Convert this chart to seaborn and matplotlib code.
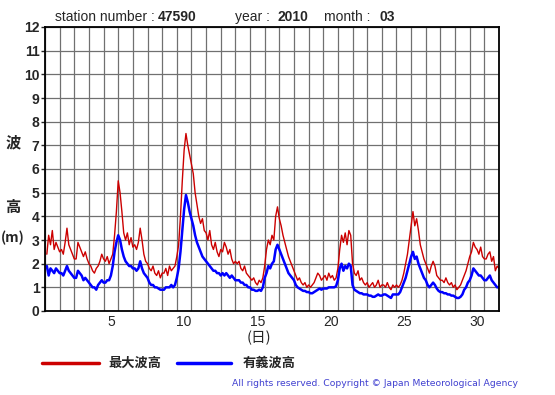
# 波浪観測グラフ（最大波高・有義波高） 2010年3月 地点47590
import numpy as np
import pandas as pd
import matplotlib
matplotlib.use('Agg')
import matplotlib.pyplot as plt
import seaborn as sns

station = '47590'
year = '2010'
month = '03'

# 3時間ごとの値（各日 3,6,...,24時）
hours = [3, 6, 9, 12, 15, 18, 21, 24]
n_days = 31

max_wave = [
    2.4, 3.2, 2.8, 3.4, 2.6, 2.9, 2.7, 2.5,   # 1
    2.6, 2.4, 2.9, 3.5, 2.8, 2.6, 2.4, 2.2,   # 2
    2.2, 2.9, 2.7, 2.5, 2.3, 2.5, 2.2, 2.0,   # 3
    1.9, 1.7, 1.6, 1.8, 1.9, 2.1, 2.4, 2.2,   # 4
    2.1, 2.3, 2.0, 2.2, 2.4, 3.2, 4.2, 5.5,   # 5
    5.0, 4.2, 3.3, 3.0, 3.3, 2.8, 3.1, 2.7,   # 6
    2.8, 2.6, 2.9, 3.5, 3.0, 2.4, 2.1, 2.0,   # 7
    1.8, 1.7, 1.9, 1.6, 1.5, 1.7, 1.4, 1.6,   # 8
    1.6, 1.8, 1.5, 1.9, 1.7, 1.8, 1.9, 2.3,   # 9
    2.8, 4.0, 5.5, 6.8, 7.5, 7.0, 6.6, 6.2,   # 10
    5.8, 5.0, 4.5, 4.0, 3.7, 3.9, 3.4, 3.3,   # 11
    3.0, 3.4, 2.8, 2.6, 2.9, 2.5, 2.3, 2.6,   # 12
    2.5, 2.9, 2.7, 2.4, 2.6, 2.2, 2.0, 2.1,   # 13
    2.0, 2.1, 1.8, 1.7, 1.9, 1.6, 1.5, 1.4,   # 14
    1.3, 1.4, 1.2, 1.1, 1.3, 1.2, 1.4, 1.9,   # 15
    2.6, 3.0, 2.8, 3.2, 3.0, 4.0, 4.4, 3.9,   # 16
    3.6, 3.2, 2.9, 2.6, 2.3, 2.1, 1.9, 1.7,   # 17
    1.5, 1.3, 1.4, 1.2, 1.1, 1.2, 1.0, 1.1,   # 18
    1.0, 1.1, 1.2, 1.4, 1.6, 1.5, 1.3, 1.4,   # 19
    1.5, 1.3, 1.6, 1.4, 1.5, 1.3, 1.4, 1.8,   # 20
    2.6, 3.2, 2.9, 3.3, 2.8, 3.4, 3.2, 2.0,   # 21
    1.6, 1.5, 1.7, 1.3, 1.4, 1.2, 1.1, 1.2,   # 22
    1.0, 1.1, 1.2, 1.0, 1.1, 1.3, 1.0, 1.1,   # 23
    1.1, 1.0, 1.2, 1.0, 0.9, 1.1, 1.0, 1.1,   # 24
    1.0, 1.1, 1.3, 1.6, 2.0, 2.4, 3.0, 3.6,   # 25
    4.2, 3.6, 3.9, 3.4, 2.8, 2.5, 2.2, 2.0,   # 26
    1.8, 1.6, 1.9, 2.1, 1.9, 1.5, 1.4, 1.3,   # 27
    1.3, 1.2, 1.4, 1.2, 1.1, 1.2, 1.0, 1.1,   # 28
    0.9, 1.0, 1.1, 1.3, 1.5, 1.7, 2.0, 2.3,   # 29
    2.5, 2.9, 2.7, 2.6, 2.4, 2.7, 2.3, 2.2,   # 30
    2.2, 2.4, 2.5, 2.1, 2.3, 1.7, 1.9, 1.8,   # 31
]

sig_wave = [
    1.9, 1.5, 1.8, 1.7, 1.6, 1.8, 1.7, 1.6,   # 1
    1.6, 1.5, 1.7, 1.9, 1.7, 1.6, 1.5, 1.4,   # 2
    1.4, 1.7, 1.6, 1.5, 1.3, 1.4, 1.3, 1.2,   # 3
    1.1, 1.0, 1.0, 0.9, 1.1, 1.2, 1.3, 1.2,   # 4
    1.2, 1.3, 1.3, 1.5, 1.9, 2.5, 2.9, 3.2,   # 5
    3.0, 2.6, 2.3, 2.1, 2.0, 1.9, 1.9, 1.8,   # 6
    1.8, 1.7, 1.8, 2.1, 1.8, 1.6, 1.5, 1.4,   # 7
    1.2, 1.1, 1.1, 1.0, 1.0, 0.95, 0.9, 0.9,  # 8
    0.9, 1.0, 1.0, 1.0, 1.1, 1.0, 1.1, 1.4,   # 9
    1.8, 2.5, 3.4, 4.3, 4.9, 4.6, 4.2, 3.9,   # 10
    3.6, 3.2, 2.9, 2.7, 2.5, 2.3, 2.2, 2.1,   # 11
    2.0, 1.9, 1.8, 1.7, 1.7, 1.6, 1.6, 1.5,   # 12
    1.6, 1.5, 1.6, 1.5, 1.4, 1.5, 1.4, 1.3,   # 13
    1.3, 1.3, 1.2, 1.2, 1.1, 1.1, 1.0, 1.0,   # 14
    0.9, 0.9, 0.85, 0.85, 0.9, 0.85, 1.0, 1.4,  # 15
    1.6, 1.9, 1.8, 2.0, 2.1, 2.6, 2.8, 2.6,   # 16
    2.4, 2.2, 2.0, 1.8, 1.6, 1.5, 1.4, 1.3,   # 17
    1.1, 1.0, 0.95, 0.9, 0.85, 0.85, 0.8, 0.8,  # 18
    0.75, 0.75, 0.8, 0.85, 0.9, 0.95, 0.9, 0.95,  # 19
    0.95, 0.95, 1.0, 1.0, 1.0, 1.0, 1.05, 1.3,  # 20
    1.8, 2.0, 1.7, 1.9, 1.8, 2.0, 1.9, 1.1,   # 21
    0.9, 0.85, 0.8, 0.75, 0.75, 0.7, 0.7, 0.7,  # 22
    0.65, 0.65, 0.6, 0.6, 0.65, 0.7, 0.65, 0.65,  # 23
    0.7, 0.7, 0.65, 0.6, 0.55, 0.7, 0.7, 0.7,  # 24
    0.7, 0.8, 1.0, 1.2, 1.4, 1.7, 2.0, 2.3,   # 25
    2.5, 2.2, 2.3, 2.0, 1.8, 1.6, 1.4, 1.3,   # 26
    1.1, 1.0, 1.1, 1.2, 1.1, 0.95, 0.85, 0.8,  # 27
    0.8, 0.75, 0.75, 0.7, 0.7, 0.65, 0.65, 0.6,  # 28
    0.55, 0.55, 0.6, 0.7, 0.9, 1.0, 1.2, 1.3,  # 29
    1.5, 1.8, 1.7, 1.6, 1.5, 1.5, 1.4, 1.3,   # 30
    1.3, 1.4, 1.5, 1.3, 1.2, 1.1, 1.0, 1.0,   # 31
]

day_ticks = [5, 10, 15, 20, 25, 30]
y_ticks = list(range(0, 13))

# 経過日数（1日0時 = 0）
t = np.array([(d - 1) + h / 24 for d in range(1, n_days + 1) for h in hours])
df = pd.DataFrame({'t': t, 'max': max_wave, 'sig': sig_wave})

sns.set_style('white')
plt.rcParams['font.family'] = ['Liberation Sans', 'DejaVu Sans']
jp = ['Noto Sans CJK JP', 'DejaVu Sans']

fig = plt.figure(figsize=(5.55, 3.95), dpi=100)
ax = fig.add_axes([45 / 555, 1 - 311 / 395, 454 / 555, 284 / 395])

sns.lineplot(data=df, x='t', y='max', ax=ax, color='#cc0000', linewidth=1.0)
sns.lineplot(data=df, x='t', y='sig', ax=ax, color='#0000ff', linewidth=1.8)

ax.set_xlim(0, n_days)
ax.set_ylim(0, 12)
ax.set_xticks(np.arange(0, n_days + 1), minor=True)
ax.set_xticks([d - 0.5 for d in day_ticks])
ax.set_xticklabels([str(d) for d in day_ticks], fontsize=10)
ax.set_yticks(y_ticks)
ax.set_yticklabels([str(v) for v in y_ticks], fontsize=10, fontweight='bold')
ax.grid(True, which='minor', axis='x', color='#707070', linewidth=0.9)
ax.grid(True, which='major', axis='y', color='#707070', linewidth=0.9)
ax.grid(False, which='major', axis='x')
ax.tick_params(axis='x', which='both', length=0, pad=3)
ax.tick_params(axis='y', length=3, width=1, pad=1, left=True)
ax.set_xlabel('')
ax.set_ylabel('')
for s in ax.spines.values():
    s.set_color('black')
    s.set_linewidth(1.3)

# 上部見出し
hy = 1 - 17 / 395
fig.text(55 / 555, hy, 'station number :', fontsize=10, va='center')
fig.text(158 / 555, hy, station, fontsize=10, fontweight='bold', va='center')
fig.text(235 / 555, hy, 'year :', fontsize=10, va='center')
fig.text(277 / 555, hy, year, fontsize=10, fontweight='bold', va='center')
fig.text(324 / 555, hy, 'month :', fontsize=10, va='center')
fig.text(379 / 555, hy, month, fontsize=10, fontweight='bold', va='center')

# 縦軸ラベル
fig.text(13 / 555, 1 - 142 / 395, '波', family=jp, fontsize=11, fontweight='bold', ha='center', va='center')
fig.text(13 / 555, 1 - 207 / 395, '高', family=jp, fontsize=11, fontweight='bold', ha='center', va='center')
fig.text(13 / 555, 1 - 238 / 395, '(m)', family=jp, fontsize=10, fontweight='bold', ha='center', va='center')
# 横軸ラベル
fig.text(259 / 555, 1 - 338 / 395, '(日)', family=jp, fontsize=10.5, ha='center', va='center')

# 凡例
fig.add_artist(plt.Line2D([42 / 555, 99 / 555], [1 - 363 / 395] * 2, color='#cc0000', linewidth=2.5))
fig.text(108 / 555, 1 - 363 / 395, '最大波高', family=jp, fontsize=9.5, fontweight='bold', va='center')
fig.add_artist(plt.Line2D([177 / 555, 231 / 555], [1 - 363 / 395] * 2, color='#0000ff', linewidth=2.5))
fig.text(243 / 555, 1 - 363 / 395, '有義波高', family=jp, fontsize=9.5, fontweight='bold', va='center')

fig.text(518 / 555, 1 - 384 / 395, 'All rights reserved. Copyright © Japan Meteorological Agency',
         family='DejaVu Sans', fontsize=6.7, color='#4040d0', ha='right', va='center')

plt.savefig('out.png', dpi=100)
